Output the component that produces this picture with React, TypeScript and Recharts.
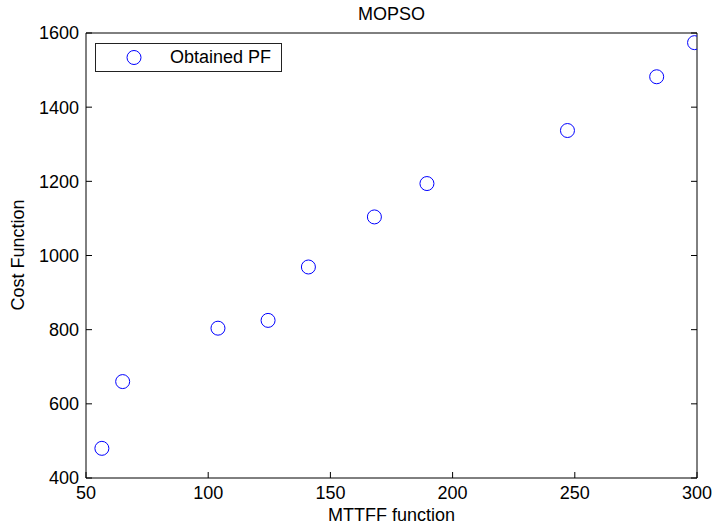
import React from 'react';
import { ScatterChart, Scatter, XAxis, YAxis } from 'recharts';

const mttff = [56.5, 65, 104, 124.5, 141, 168, 189.5, 247, 283.5, 299];
const cost = [480, 660, 804, 825, 969, 1104, 1194, 1337, 1482, 1574];
const xTicks = [50, 100, 150, 200, 250, 300];
const yTicks = [400, 600, 800, 1000, 1200, 1400, 1600];

const points = mttff.map((x, i) => ({ x, y: cost[i] }));

const FONT = '"Liberation Sans", Arial, sans-serif';
const TICK = 6; // inward tick length, matlab style

// bottom axis: label plus an inward tick (y passed in is axis line + 8)
const BottomTick = (p: any) => (
  <g>
    <line x1={p.x} x2={p.x} y1={p.y - 8} y2={p.y - 8 - TICK} stroke="#000" />
    <text x={p.x} y={p.y} dy="0.71em" textAnchor="middle" fill="#000" fontSize={18} fontFamily={FONT}>
      {p.payload.value}
    </text>
  </g>
);

// left axis: x passed in is axis line - 7
const LeftTick = (p: any) => (
  <g>
    <line x1={p.x + 7} x2={p.x + 7 + TICK} y1={p.y} y2={p.y} stroke="#000" />
    <text x={p.x} y={p.y} dy="0.355em" textAnchor="end" fill="#000" fontSize={18} fontFamily={FONT}>
      {p.payload.value}
    </text>
  </g>
);

const TopTick = (p: any) => <line x1={p.x} x2={p.x} y1={p.y} y2={p.y + TICK} stroke="#000" />;
const RightTick = (p: any) => <line x1={p.x} x2={p.x - TICK} y1={p.y} y2={p.y} stroke="#000" />;

const Ring = (props: any) => (
  <circle cx={props.cx} cy={props.cy} r={7} fill="none" stroke="#0000ff" strokeWidth={1} />
);

const LegendBox = () => (
  <div
    style={{
      position: 'absolute',
      left: 95,
      top: 43,
      width: 187,
      height: 29,
      border: '1px solid #222',
      background: '#fff',
      boxSizing: 'border-box',
      display: 'flex',
      alignItems: 'center',
      fontFamily: FONT,
      fontSize: 18,
      color: '#000',
    }}
  >
    <svg width={74} height={27}>
      <circle cx={38} cy={13.5} r={7} fill="none" stroke="#0000ff" strokeWidth={1} />
    </svg>
    <span>Obtained PF</span>
  </div>
);

export default function App() {
  return (
    <div style={{ position: 'absolute', left: 0, top: 0, width: 715, height: 526, background: '#fff' }}>
      <div
        style={{
          position: 'absolute',
          left: 0,
          width: 783,
          top: 4,
          textAlign: 'center',
          fontFamily: FONT,
          fontSize: 18,
          color: '#000',
        }}
      >
        MOPSO
      </div>
      <ScatterChart width={715} height={526} margin={{ top: 0, right: 0, bottom: 0, left: 0 }}>
        <XAxis
          type="number"
          dataKey="x"
          domain={[50, 300]}
          ticks={xTicks}
          height={48}
          tickLine={false}
          tickSize={0}
          tickMargin={8}
          tick={<BottomTick />}
          stroke="#000"
          allowDataOverflow
          label={{
            value: 'MTTFF function',
            position: 'insideBottom',
            offset: 5,
            fill: '#000',
            fontSize: 18,
            fontFamily: FONT,
          }}
        />
        <XAxis
          xAxisId="top"
          orientation="top"
          type="number"
          domain={[50, 300]}
          ticks={xTicks}
          height={33}
          tickLine={false}
          tickSize={0}
          tickMargin={0}
          tick={<TopTick />}
          stroke="#000"
          allowDataOverflow
        />
        <YAxis
          type="number"
          dataKey="y"
          domain={[400, 1600]}
          ticks={yTicks}
          width={86}
          tickLine={false}
          tickSize={0}
          tickMargin={7}
          tick={<LeftTick />}
          stroke="#000"
          allowDataOverflow
          label={{
            content: () => (
              <text
                x={24}
                y={255}
                transform="rotate(-90 24 255)"
                textAnchor="middle"
                fill="#000"
                fontSize={18}
                fontFamily={FONT}
              >
                Cost Function
              </text>
            ),
          }}
        />
        <YAxis
          yAxisId="right"
          orientation="right"
          type="number"
          domain={[400, 1600]}
          ticks={yTicks}
          width={18}
          tickLine={false}
          tickSize={0}
          tickMargin={0}
          tick={<RightTick />}
          stroke="#000"
          allowDataOverflow
        />
        <Scatter
          name="Obtained PF"
          data={points}
          shape={<Ring />}
          isAnimationActive={false}
        />
      </ScatterChart>
      <LegendBox />
    </div>
  );
}
